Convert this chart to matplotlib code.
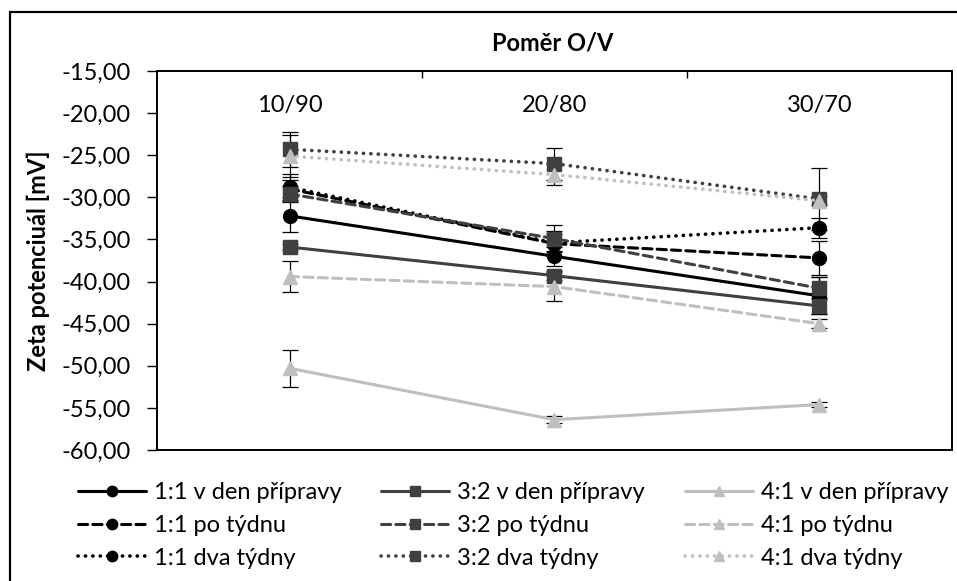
import matplotlib
matplotlib.use("Agg")
import matplotlib.pyplot as plt
from matplotlib.patches import Rectangle

plt.rcParams["font.family"] = ["Lato", "DejaVu Sans"]
plt.rcParams["font.size"] = 17

# --- data ---
categories = ["10/90", "20/80", "30/70"]

labels = [
    "1:1 v den přípravy", "1:1 po týdnu", "1:1 dva týdny",
    "3:2 v den přípravy", "3:2 po týdnu", "3:2 dva týdny",
    "4:1 v den přípravy", "4:1 po týdnu", "4:1 dva týdny",
]
zeta_11_den = [-32.2, -37.0, -41.7]
zeta_11_tyden = [-29.0, -35.5, -37.2]
zeta_11_dva = [-28.8, -35.4, -33.6]
zeta_32_den = [-35.9, -39.3, -42.9]
zeta_32_tyden = [-29.6, -34.9, -40.8]
zeta_32_dva = [-24.3, -26.0, -30.2]
zeta_41_den = [-50.3, -56.4, -54.6]
zeta_41_tyden = [-39.4, -40.6, -45.0]
zeta_41_dva = [-25.1, -27.3, -30.4]

err_11_den = [1.9, 1.1, 2.2]
err_11_tyden = [1.0, 1.5, 2.0]
err_11_dva = [1.6, 1.0, 1.2]
err_32_den = [0.3, 0.5, 1.0]
err_32_tyden = [0.9, 1.6, 1.3]
err_32_dva = [2.1, 1.9, 3.7]
err_41_den = [2.2, 0.4, 0.3]
err_41_tyden = [1.8, 1.7, 0.5]
err_41_dva = [2.5, 1.2, 0.5]

values = [zeta_11_den, zeta_11_tyden, zeta_11_dva,
          zeta_32_den, zeta_32_tyden, zeta_32_dva,
          zeta_41_den, zeta_41_tyden, zeta_41_dva]
errors = [err_11_den, err_11_tyden, err_11_dva,
          err_32_den, err_32_tyden, err_32_dva,
          err_41_den, err_41_tyden, err_41_dva]

# --- styles ---
BLACK, DARK, LIGHT = "#000000", "#404040", "#BFBFBF"
colors = [BLACK] * 3 + [DARK] * 3 + [LIGHT] * 3
markers = ["o"] * 3 + ["s"] * 3 + ["^"] * 3
DASHED = (0, (3.0, 1.7))
DOTTED = (0, (0.05, 2.0))
styles = ["-", DASHED, DOTTED] * 3
widths = [2.2, 2.2, 2.6] * 3

W, H = 957, 581
fig = plt.figure(figsize=(W / 100, H / 100), dpi=100)
fig.patch.set_facecolor("white")

# outer chart border
fig.patches.append(Rectangle((10 / W, 1 - 590 / H), 960 / W, 578 / H,
                             transform=fig.transFigure, fill=False,
                             edgecolor="black", lw=1.6, zorder=0))

ax = fig.add_axes([157 / W, 1 - 450 / H, 795 / W, 379 / H])
x = [1, 2, 3]

for vals, errs, c, m, ls, lw, lab in zip(values, errors, colors, markers,
                                         styles, widths, labels):
    ax.errorbar(x, vals, yerr=errs, fmt="none", ecolor="black",
                elinewidth=0.9, capsize=6, capthick=0.9, zorder=2)
    ax.plot(x, vals, color=c, linestyle=ls, lw=lw, marker=m, markersize=10,
            dash_capstyle="round", solid_capstyle="round",
            markeredgecolor=c, markerfacecolor=c, label=lab, zorder=3)

ax.set_xlim(0.5, 3.5)
ax.set_ylim(-60, -15)
ax.set_yticks(range(-60, -14, 5))
ax.set_yticklabels([f"{v},00" for v in range(-60, -14, 5)])
ax.tick_params(axis="y", direction="out", length=7, width=1, pad=12)

# category axis along the top, ticks between categories pointing in
ax.xaxis.tick_top()
ax.set_xticks([1.5, 2.5])
ax.set_xticklabels([])
ax.tick_params(axis="x", direction="in", length=5, width=1)
for xi, cat in zip(x, categories):
    ax.text(xi, -19.1, cat, ha="center", va="center")

for sp in ax.spines.values():
    sp.set_linewidth(1.4)
    sp.set_color("black")

ax.set_ylabel("Zeta potenciuál [mV]", fontweight="bold")
ax.yaxis.set_label_coords(-(157 - 50) / 795, 0.5)
fig.text(553 / W, 1 - 43 / H, "Poměr O/V", ha="center", va="center",
         fontweight="bold")

# legend: one column per ratio, placed where the reference has them
handles, labs = ax.get_legend_handles_labels()
col_x = [78, 381, 685]
for i, cx in enumerate(col_x):
    leg = fig.legend(handles[3 * i:3 * i + 3], labs[3 * i:3 * i + 3],
                     loc="upper left", bbox_to_anchor=(cx / W, 1 - 482 / H),
                     frameon=False, handlelength=2.9, handletextpad=0.3,
                     labelspacing=0.5, borderpad=0, borderaxespad=0,
                     markerscale=0.75)

fig.savefig("out.png", dpi=100, facecolor="white")
